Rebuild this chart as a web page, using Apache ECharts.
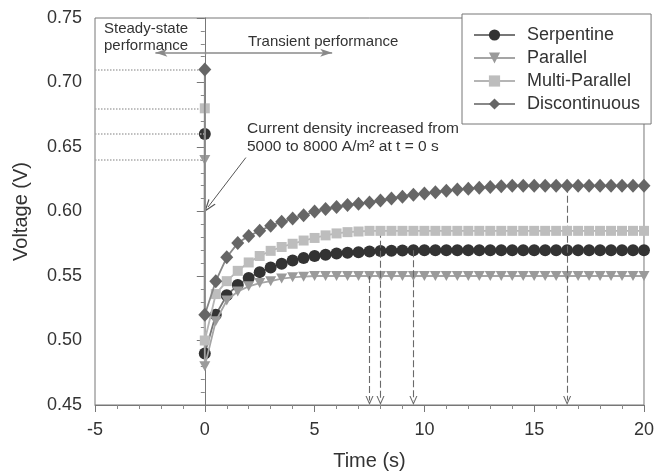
<!DOCTYPE html>
<html>
<head>
<meta charset="utf-8">
<script src="https://cdn.jsdelivr.net/npm/echarts@6/dist/echarts.min.js"></script>
<style>
  html, body { margin: 0; padding: 0; background: #fff; }
  #chart { width: 657px; height: 476px; }
</style>
</head>
<body>
<div id="chart"></div>
<script>
// time axis: first point is the steady state value at t = 0, then the step
var timeSteps = [0, 0, 0.5, 1, 1.5, 2, 2.5, 3, 3.5, 4, 4.5, 5, 5.5, 6, 6.5, 7, 7.5, 8, 8.5, 9, 9.5,
  10, 10.5, 11, 11.5, 12, 12.5, 13, 13.5, 14, 14.5, 15, 15.5, 16, 16.5, 17, 17.5, 18, 18.5, 19, 19.5, 20];

var serpentine = [0.66, 0.49, 0.52, 0.535, 0.543, 0.5485, 0.553, 0.5565, 0.5595, 0.562, 0.564,
  0.5655, 0.5665, 0.5675, 0.568, 0.5685, 0.569, 0.5693, 0.5696, 0.5698, 0.57,
  0.57, 0.57, 0.57, 0.57, 0.57, 0.57, 0.57, 0.57, 0.57, 0.57, 0.57,
  0.57, 0.57, 0.57, 0.57, 0.57, 0.57, 0.57, 0.57, 0.57, 0.57];

var parallel = [0.64, 0.48, 0.515, 0.531, 0.538, 0.542, 0.5445, 0.546, 0.548, 0.549, 0.5495,
  0.55, 0.55, 0.55, 0.55, 0.55, 0.55, 0.55, 0.55, 0.55, 0.55,
  0.55, 0.55, 0.55, 0.55, 0.55, 0.55, 0.55, 0.55, 0.55, 0.55, 0.55,
  0.55, 0.55, 0.55, 0.55, 0.55, 0.55, 0.55, 0.55, 0.55, 0.55];

var multiParallel = [0.68, 0.50, 0.536, 0.546, 0.554, 0.5605, 0.5655, 0.5695, 0.5725, 0.575, 0.5775,
  0.5795, 0.5815, 0.583, 0.584, 0.5845, 0.585, 0.585, 0.585, 0.585, 0.585,
  0.585, 0.585, 0.585, 0.585, 0.585, 0.585, 0.585, 0.585, 0.585, 0.585, 0.585,
  0.585, 0.585, 0.585, 0.585, 0.585, 0.585, 0.585, 0.585, 0.585, 0.585];

var discontinuous = [0.71, 0.52, 0.546, 0.5645, 0.5755, 0.581, 0.585, 0.589, 0.592, 0.5945, 0.597,
  0.600, 0.602, 0.6035, 0.605, 0.606, 0.607, 0.6085, 0.61, 0.6115, 0.613,
  0.614, 0.615, 0.616, 0.617, 0.6177, 0.6185, 0.619, 0.6195, 0.62, 0.62, 0.62,
  0.62, 0.62, 0.62, 0.62, 0.62, 0.62, 0.62, 0.62, 0.62, 0.62];

var seriesNames = ['Serpentine', 'Parallel', 'Multi-Parallel', 'Discontinuous'];

// dashed arrows marking when each design reaches steady state
var settleTimes = [9.5, 7.5, 8, 16.5];
var settleValues = [0.57, 0.55, 0.585, 0.62];

var xTicks = [-5, 20, 5];
var yTicks = [0.45, 0.75, 0.05];

var chart = echarts.init(document.getElementById('chart'));

var FONT = '"Liberation Sans", Arial, sans-serif';
var chevron = 'path://M5,0 L10,10 L8.6,10 L5,2.8 L1.4,10 L0,10 Z';
var downTri = 'path://M0,0 L10,0 L5,9 Z';

function pairs(vals) {
  return timeSteps.map(function (t, i) { return [t, vals[i]]; });
}

var looks = [
  { data: serpentine, symbol: 'circle', size: 12, color: '#333', line: '#777' },
  { data: parallel, symbol: downTri, size: [11, 10], color: '#9a9a9a', line: '#a5a5a5' },
  { data: multiParallel, symbol: 'rect', size: 10, color: '#bdbdbd', line: '#b5b5b5' },
  { data: discontinuous, symbol: 'diamond', size: [13, 14], color: '#666', line: '#888' }
];

var series = looks.map(function (s, k) {
  return {
    name: seriesNames[k],
    type: 'line',
    data: pairs(s.data),
    symbol: s.symbol,
    symbolSize: s.size,
    showAllSymbol: true,
    itemStyle: { color: s.color },
    lineStyle: { color: s.line, width: 1.8 },
    z: 3 + k,
    markLine: {
      silent: true,
      symbol: ['none', 'none'],
      label: { show: false },
      lineStyle: { color: '#aaa', type: 'dotted', width: 1.5 },
      data: [[{ coord: [xTicks[0], s.data[0]] }, { coord: [0, s.data[0]] }]]
    }
  };
});

// annotation arrows
series.push({
  name: 'notes',
  type: 'line',
  data: [],
  markLine: {
    silent: true,
    animation: false,
    label: { show: false },
    data: settleTimes.map(function (t, i) {
      return [
        { coord: [t, settleValues[i]], symbol: 'none', lineStyle: { color: '#6a6a6a', type: [7, 3], width: 1.1 } },
        { coord: [t, 0.4535], symbol: chevron, symbolSize: [8, 9] }
      ];
    }).concat([
      [
        { coord: [-2.25, 0.723], symbol: 'arrow', symbolSize: [6, 12], lineStyle: { color: '#8a8a8a', type: 'solid', width: 1.5 } },
        { coord: [5.8, 0.723], symbol: 'arrow', symbolSize: [6, 12] }
      ],
      [
        { coord: [0, 0.7248], symbol: 'none', lineStyle: { color: '#8a8a8a', type: 'solid', width: 1.2 } },
        { coord: [0, 0.7212], symbol: 'none' }
      ],
      [
        { coord: [1.87, 0.6418], symbol: 'none', lineStyle: { color: '#555', type: 'solid', width: 1 } },
        { coord: [0.15, 0.6035], symbol: chevron, symbolSize: [9, 13] }
      ]
    ])
  }
});

var option = {
  animation: false,
  textStyle: { fontFamily: FONT },
  grid: {
    left: 95, right: 11, top: 18, bottom: 70,
    show: true, borderColor: '#777', borderWidth: 1
  },
  legend: {
    data: seriesNames,
    orient: 'vertical',
    left: 462, top: 14,
    padding: [11, 11, 10, 11],
    backgroundColor: '#fff',
    borderColor: '#777', borderWidth: 1,
    itemWidth: 41, itemHeight: 14, itemGap: 3,
    textStyle: { fontSize: 18, color: '#333', lineHeight: 20, padding: [0, 0, 0, 7], fontFamily: FONT }
  },
  xAxis: {
    type: 'value',
    min: xTicks[0], max: xTicks[1], interval: xTicks[2],
    name: 'Time (s)', nameLocation: 'middle', nameGap: 46,
    nameTextStyle: { fontSize: 20, color: '#333', fontFamily: FONT },
    axisLine: { lineStyle: { color: '#777' } },
    axisTick: { length: 7, lineStyle: { color: '#777' } },
    minorTick: { show: true, splitNumber: 5, length: 4, lineStyle: { color: '#888' } },
    splitLine: { show: false },
    axisLabel: { fontSize: 18, color: '#333', margin: 16, fontFamily: FONT }
  },
  yAxis: {
    type: 'value',
    min: yTicks[0], max: yTicks[1], interval: yTicks[2],
    name: 'Voltage (V)', nameLocation: 'middle', nameGap: 64,
    nameTextStyle: { fontSize: 20, color: '#333', fontFamily: FONT },
    axisLine: { show: true, lineStyle: { color: '#777' } },
    axisTick: { show: true, length: 8, lineStyle: { color: '#777' } },
    minorTick: { show: true, splitNumber: 5, length: 4, lineStyle: { color: '#888' } },
    splitLine: { show: false },
    axisLabel: {
      fontSize: 18, color: '#333', margin: 13, fontFamily: FONT,
      formatter: function (v) { return v.toFixed(2); }
    }
  },
  graphic: [
    { type: 'text', left: 104, top: 20, style: { text: 'Steady-state\nperformance', font: '15px ' + FONT, fill: '#333', lineHeight: 17 } },
    { type: 'text', left: 248, top: 34, style: { text: 'Transient performance', font: '15px ' + FONT, fill: '#333' } },
    { type: 'text', left: 247, top: 120, style: { text: 'Current density increased from\n5000 to 8000 A/m² at t = 0 s', font: '15.5px ' + FONT, fill: '#333', lineHeight: 18 } }
  ],
  series: series
};

chart.setOption(option);
</script>
</body>
</html>
